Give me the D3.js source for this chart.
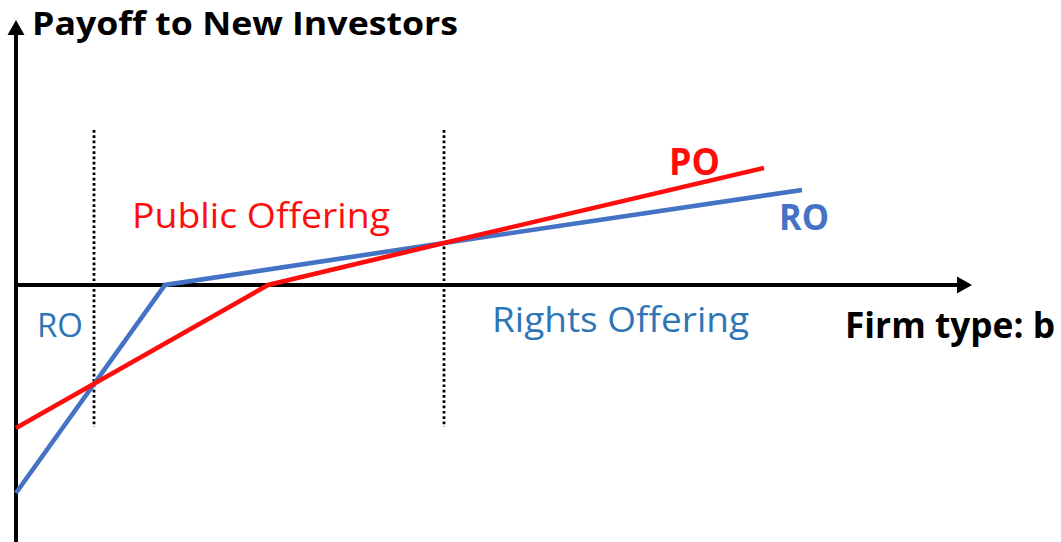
<!DOCTYPE html>
<html>
<head>
<meta charset="utf-8">
<script src="https://cdn.jsdelivr.net/npm/d3@7"></script>
<style>
    body { margin: 0; background: #fff; }
    svg { display: block; font-family: "Open Sans", "DejaVu Sans", sans-serif; }
</style>
</head>
<body>
<div id="chart"></div>
<script>
// firm type b (horizontal) and payoff to new investors (vertical), arbitrary units
const roB = [0, 14.9, 42.8, 78.6];
const roPayoff = [-20.8, 0, 4.2, 9.5];
const poB = [0, 25.2, 42.8, 74.8];
const poPayoff = [-14.3, 0, 4.2, 11.7];
const cutoffs = [7.8, 42.8];
const cutoffSpan = [-14.2, 15.5];
const xExtent = [0, 95.6];
const yExtent = [-25.5, 26.5];

const width = 1061, height = 542;

const svg = d3.select("#chart").append("svg")
    .attr("width", width)
    .attr("height", height);

const x = d3.scaleLinear().domain(xExtent).range([16, 972]);
const y = d3.scaleLinear().domain(yExtent).range([540, 20]);

// dotted cutoffs
svg.selectAll(".cutoff")
    .data(cutoffs)
    .enter().append("line")
    .attr("class", "cutoff")
    .attr("x1", d => x(d)).attr("x2", d => x(d))
    .attr("y1", y(cutoffSpan[1])).attr("y2", y(cutoffSpan[0]))
    .attr("stroke", "#000")
    .attr("stroke-width", 2.8)
    .attr("stroke-dasharray", "2.7 2.6");

// axes with arrow heads
const arrowLen = 15, arrowHalf = 8.5;
svg.append("line")
    .attr("x1", x(0)).attr("x2", x(xExtent[1]) - arrowLen + 1)
    .attr("y1", y(0)).attr("y2", y(0))
    .attr("stroke", "#000").attr("stroke-width", 4);
svg.append("path")
    .attr("d", `M${x(xExtent[1])},${y(0)} L${x(xExtent[1]) - arrowLen},${y(0) - arrowHalf} L${x(xExtent[1]) - arrowLen},${y(0) + arrowHalf} Z`)
    .attr("fill", "#000");

svg.append("line")
    .attr("x1", x(0)).attr("x2", x(0))
    .attr("y1", height).attr("y2", y(yExtent[1]) + arrowLen - 1)
    .attr("stroke", "#000").attr("stroke-width", 4);
svg.append("path")
    .attr("d", `M${x(0)},${y(yExtent[1])} L${x(0) - arrowHalf},${y(yExtent[1]) + arrowLen} L${x(0) + arrowHalf},${y(yExtent[1]) + arrowLen} Z`)
    .attr("fill", "#000");

// payoff lines
const line = d3.line().x(d => x(d[0])).y(d => y(d[1]));
const series = [
    {name: "RO", pts: d3.zip(roB, roPayoff), color: "#4472c4"},
    {name: "PO", pts: d3.zip(poB, poPayoff), color: "#ff0d0d"}
];
svg.selectAll(".payoff")
    .data(series)
    .enter().append("path")
    .attr("class", "payoff")
    .attr("d", d => line(d.pts))
    .attr("fill", "none")
    .attr("stroke", d => d.color)
    .attr("stroke-width", 4.6)
    .attr("stroke-linejoin", "miter");

// labels
const labels = [
    {text: "Payoff to New Investors", x: 32, y: 35, w: 426, size: 32, weight: "bold", color: "#000"},
    {text: "Firm type: b", x: 845, y: 338, w: 210, size: 36, weight: "bold", color: "#000"},
    {text: "PO", x: 669, y: 175, w: 51, size: 38, weight: "bold", color: "#ff0d0d"},
    {text: "RO", x: 779, y: 230, w: 50, size: 36, weight: "bold", color: "#4472c4"},
    {text: "Public Offering", x: 132, y: 228, w: 258, size: 35, weight: "normal", color: "#ff0d0d"},
    {text: "Rights Offering", x: 492, y: 332, w: 257, size: 35, weight: "normal", color: "#2e75b6"},
    {text: "RO", x: 37, y: 337, w: 46, size: 32, weight: "normal", color: "#2e75b6"}
];
svg.selectAll(".label")
    .data(labels)
    .enter().append("text")
    .attr("class", "label")
    .attr("x", d => d.x)
    .attr("y", d => d.y)
    .attr("font-size", d => d.size)
    .attr("font-weight", d => d.weight)
    .attr("fill", d => d.color)
    .attr("textLength", d => d.w)
    .attr("lengthAdjust", "spacingAndGlyphs")
    .text(d => d.text);
</script>
</body>
</html>
